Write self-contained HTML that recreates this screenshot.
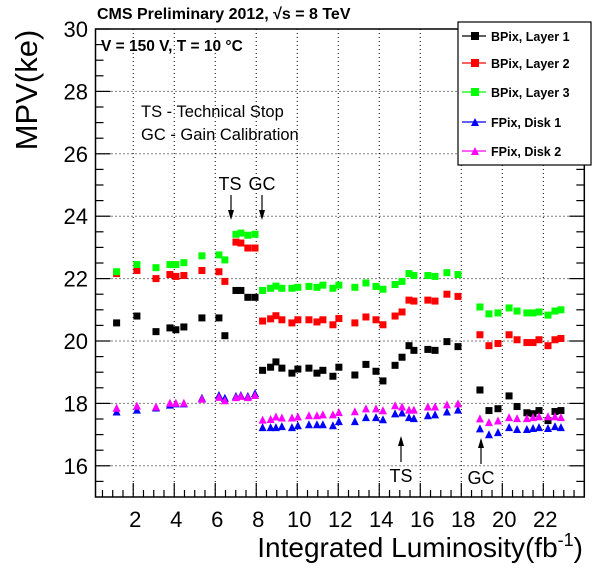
<!DOCTYPE html>
<html><head><meta charset="utf-8"><style>
html,body{margin:0;padding:0;background:#fff}
svg{display:block;font-family:"Liberation Sans",sans-serif}
</style></head><body>
<svg id="chart" width="596" height="572" viewBox="0 0 596 572" xmlns="http://www.w3.org/2000/svg">
<g id="grid"></g>
<g id="axes"></g>
<g id="marks"></g>
<text x="97" y="19" font-size="16" font-weight="bold">CMS Preliminary 2012, √s = 8 TeV</text>
<text x="101" y="51" font-size="15.5" font-weight="bold">V = 150 V, T = 10 °C</text>
<text x="141" y="117" font-size="16.5">TS - Technical Stop</text>
<text x="141" y="140" font-size="16.5">GC - Gain Calibration</text>
<text transform="translate(37,90) rotate(-90)" text-anchor="middle" font-size="31">MPV(ke)</text>
<text x="583" y="557" text-anchor="end" font-size="28">Integrated Luminosity(fb<tspan font-size="18" dy="-11">-1</tspan><tspan dy="11">)</tspan></text>
<g>
<text x="230" y="190" text-anchor="middle" font-size="18">TS</text>
<line x1="231" y1="195" x2="231" y2="218" stroke="#000" stroke-width="1.2"/>
<path d="M228,210 L231,220 L234,210 Z" fill="#000"/>
</g>
<g>
<text x="262" y="190" text-anchor="middle" font-size="18">GC</text>
<line x1="262" y1="195" x2="262" y2="218" stroke="#000" stroke-width="1.2"/>
<path d="M259,210 L262,220 L265,210 Z" fill="#000"/>
</g>
<g>
<text x="401" y="482" text-anchor="middle" font-size="18">TS</text>
<line x1="401" y1="462" x2="401" y2="438" stroke="#000" stroke-width="1.2"/>
<path d="M398,446 L401,436 L404,446 Z" fill="#000"/>
</g>
<g>
<text x="481" y="484" text-anchor="middle" font-size="18">GC</text>
<line x1="481" y1="464" x2="481" y2="440" stroke="#000" stroke-width="1.2"/>
<path d="M478,448 L481,438 L484,448 Z" fill="#000"/>
</g>
<g id="legend"></g>
</svg>
<script>
const lumi = [1.19,2.18,3.11,3.79,4.08,4.47,5.35,6.18,6.47,7.01,7.25,7.59,7.94,
 8.31,8.70,8.96,9.25,9.74,10.03,10.57,10.96,11.25,11.74,12.03,12.81,13.35,13.84,14.18,14.77,15.11,15.45,15.69,16.37,16.72,17.30,17.84,
 18.91,19.35,19.79,20.33,20.72,21.20,21.50,21.79,22.23,22.57,22.86];
const bpixL1 = [20.58,20.80,20.30,20.42,20.36,20.45,20.74,20.74,20.17,21.62,21.62,21.40,21.40,
 19.06,19.16,19.33,19.13,18.97,19.10,19.13,18.97,19.06,18.87,19.16,18.91,19.25,19.03,18.72,19.22,19.48,19.85,19.70,19.73,19.70,19.98,19.82,
 18.43,17.77,17.83,18.24,17.90,17.70,17.67,17.77,17.45,17.74,17.77];
const bpixL2 = [22.16,22.26,22.00,22.13,22.07,22.10,22.26,22.22,21.91,23.17,23.14,22.98,22.98,
 20.64,20.71,20.81,20.68,20.58,20.68,20.68,20.61,20.68,20.52,20.72,20.58,20.77,20.68,20.52,20.80,20.93,21.31,21.28,21.31,21.28,21.50,21.43,
 20.20,19.85,19.92,20.20,20.04,19.95,19.95,20.04,19.85,20.04,20.08];
const bpixL3 = [22.22,22.45,22.35,22.45,22.45,22.51,22.73,22.76,22.60,23.42,23.46,23.39,23.42,
 21.62,21.69,21.76,21.69,21.69,21.72,21.75,21.72,21.79,21.69,21.79,21.72,21.86,21.75,21.66,21.81,21.91,22.16,22.10,22.10,22.07,22.19,22.13,
 21.09,20.87,20.90,21.06,20.96,20.90,20.90,20.93,20.83,20.96,21.00];
const fpixD1 = [17.74,17.80,17.87,17.96,18.00,18.00,18.18,18.27,18.18,18.24,18.27,18.24,18.33,
 17.24,17.24,17.24,17.27,17.24,17.30,17.33,17.33,17.33,17.30,17.43,17.43,17.56,17.56,17.49,17.68,17.71,17.56,17.53,17.62,17.65,17.74,17.80,
 17.20,17.01,17.08,17.24,17.18,17.18,17.21,17.24,17.21,17.27,17.24];
const fpixD2 = [17.86,17.93,17.90,18.02,18.02,18.02,18.15,18.21,18.10,18.20,18.24,18.20,18.27,
 17.48,17.50,17.58,17.55,17.55,17.58,17.62,17.62,17.65,17.65,17.72,17.75,17.84,17.84,17.78,17.94,17.90,17.80,17.80,17.90,17.90,17.97,18.00,
 17.52,17.40,17.45,17.56,17.53,17.53,17.56,17.59,17.59,17.59,17.56];
const xTickLabels = ["2","4","6","8","10","12","14","16","18","20","22"];
const yTickLabels = ["16","18","20","22","24","26","28","30"];
const seriesNames = ["BPix, Layer 1","BPix, Layer 2","BPix, Layer 3","FPix, Disk 1","FPix, Disk 2"];

const L=95.5,R=584.3,T=29,B=497;
const xMin=0.16,xMax=24.0,yMin=15,yMax=30;
const sx=v=>L+(v-xMin)/(xMax-xMin)*(R-L);
const sy=v=>B-(v-yMin)/(yMax-yMin)*(B-T);
const NS="http://www.w3.org/2000/svg";
function mk(tag,attrs,parent){const e=document.createElementNS(NS,tag);for(const k in attrs)e.setAttribute(k,attrs[k]);parent.appendChild(e);return e;}
const grid=document.getElementById('grid'),axes=document.getElementById('axes'),marks=document.getElementById('marks'),legend=document.getElementById('legend');

xTickLabels.forEach(t=>{const x=sx(+t);const g=mk('line',{x1:x,x2:x,y1:T,y2:B,stroke:'#000','stroke-width':1,'stroke-dasharray':'1,3'},grid);

});
yTickLabels.forEach(t=>{const y=sy(+t);const g=mk('line',{x1:L,x2:R,y1:y,y2:y,stroke:'#000','stroke-width':1,'stroke-dasharray':'1,3'},grid);

});

const fr=mk('rect',{x:L,y:T,width:R-L,height:B-T,fill:'none',stroke:'#000','stroke-width':1.5},axes);


for(let v=0.5;v<=xMax;v+=0.5){const x=sx(v);const major=Math.abs(v%2)<1e-6;
mk('line',{x1:x,x2:x,y1:B,y2:B-(major?14:7),stroke:'#000','stroke-width':1.2},axes);}
xTickLabels.forEach(t=>{const tx=mk('text',{x:sx(+t)+2,y:527,'text-anchor':'middle','font-size':22},axes);tx.textContent=t;

});
for(let v=15.5;v<=30;v+=0.5){const y=sy(v);const major=Math.abs(v%2)<1e-6;
mk('line',{x1:L,x2:L+(major?15:8),y1:y,y2:y,stroke:'#000','stroke-width':1.2},axes);
mk('line',{x1:R,x2:R-(major?15:8),y1:y,y2:y,stroke:'#000','stroke-width':1.2},axes);}
yTickLabels.forEach(t=>{const tx=mk('text',{x:88,y:sy(+t)+8,'text-anchor':'end','font-size':22},axes);tx.textContent=t;

});

const colors=['#000','#f00','#0f0','#00f','#f0f'];
const data=[bpixL1,bpixL2,bpixL3,fpixD1,fpixD2];
function square(x,y,c,p,s){return mk('rect',{x:x-s/2,y:y-s/2,width:s,height:s,fill:c},p);}
function tri(x,y,c,p,s){return mk('path',{d:`M${x-s/2},${y+s/2} L${x},${y-s/2} L${x+s/2},${y+s/2} Z`,fill:c},p);}
data.forEach((arr,si)=>{arr.forEach((v,i)=>{const x=sx(lumi[i]),y=sy(v);
const m= si<3 ? square(x,y,colors[si],marks,7) : tri(x,y,colors[si],marks,8);

});});

const lb=mk('rect',{x:458,y:22,width:133,height:143,fill:'#fff',stroke:'#000','stroke-width':1.2},legend);


const ly=[36,63,92,122,151];
seriesNames.forEach((n,i)=>{const g=mk('g',{},legend);


mk('line',{x1:462,x2:486,y1:ly[i],y2:ly[i],stroke:colors[i],'stroke-width':1.2},g);
if(i<3)square(475,ly[i],colors[i],g,8);else tri(475,ly[i],colors[i],g,8);
const t=mk('text',{x:491,y:ly[i]+5,'font-size':12.5,'font-weight':'bold'},g);t.textContent=n;});
</script>
</body></html>
